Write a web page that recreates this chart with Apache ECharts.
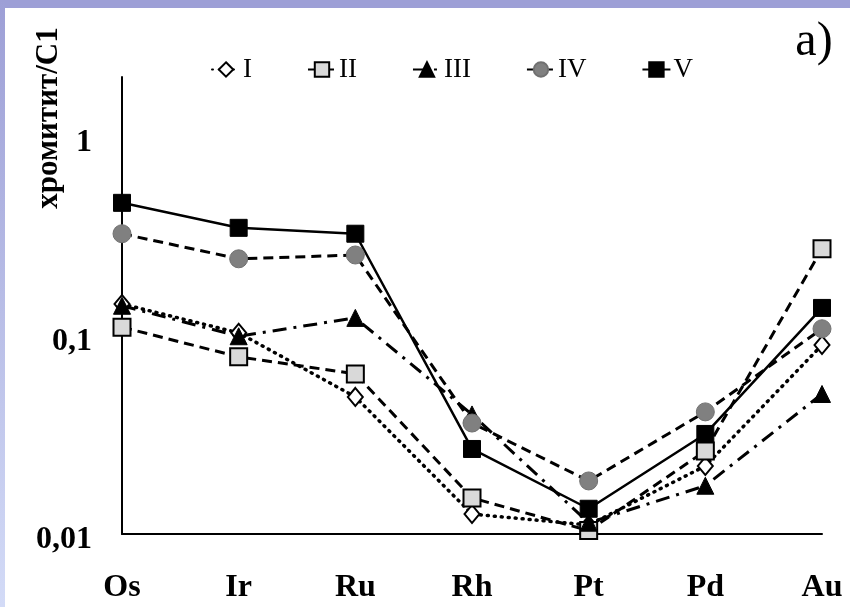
<!DOCTYPE html>
<html>
<head>
<meta charset="utf-8">
<script src="https://cdn.jsdelivr.net/npm/echarts@6/dist/echarts.min.js"></script>
<style>
html,body{margin:0;padding:0;background:#fff;}
#chart{width:850px;height:607px;}
</style>
</head>
<body>
<div id="chart"></div>
<script>
// Data (chromitite / C1, log scale)
const categories = ['Os', 'Ir', 'Ru', 'Rh', 'Pt', 'Pd', 'Au'];
const seriesNames = ['I', 'II', 'III', 'IV', 'V'];
const valuesI   = [0.144, 0.103, 0.049, 0.0126, 0.0111, 0.022, 0.0895];
const valuesII  = [0.110, 0.078, 0.064, 0.0152, 0.0104, 0.0262, 0.273];
const valuesIII = [0.141, 0.099, 0.1225, 0.040, 0.0114, 0.0175, 0.0507];
const valuesIV  = [0.325, 0.243, 0.254, 0.0362, 0.0185, 0.0412, 0.108];
const valuesV   = [0.465, 0.348, 0.325, 0.0268, 0.0134, 0.0319, 0.1375];
const yTickLabels = ['0,01', '0,1', '1'];
const yAxisTitle = 'хромитит/С1';
const panelLabel = 'a)';

const chart = echarts.init(document.getElementById('chart'));
const serif = '"Liberation Serif", "DejaVu Serif", serif';

function mkSeries(name, data, symbol, size, itemStyle, lineStyle) {
  return {
    name: name, type: 'line', data: data,
    symbol: symbol, symbolSize: size,
    itemStyle: itemStyle,
    lineStyle: Object.assign({color: '#000'}, lineStyle),
    emphasis: {disabled: true},
    animation: false
  };
}

const option = {
  backgroundColor: '#ffffff',
  animation: false,
  grid: {left: 122, right: 28, top: 77, bottom: 73},
  legend: {
    data: seriesNames,
    left: 206, top: 51,
    itemWidth: 28, itemHeight: 18, itemGap: 55,
    textStyle: {fontFamily: serif, fontSize: 27, color: '#000', padding: [0,0,0,-2]}
  },
  xAxis: {
    type: 'category', data: categories, boundaryGap: false,
    axisLine: {lineStyle: {color: '#000', width: 2}},
    axisTick: {show: false},
    axisLabel: {fontFamily: serif, fontWeight: 'bold', fontSize: 32, color: '#000', margin: 38}
  },
  yAxis: {
    type: 'log', logBase: 10, min: 0.01, max: 2, splitNumber: 3,
    axisLine: {show: true, lineStyle: {color: '#000', width: 2}},
    axisTick: {show: false},
    splitLine: {show: false},
    axisLabel: {
      fontFamily: serif, fontWeight: 'bold', fontSize: 32, color: '#000', margin: 30,
      verticalAlign: 'top', lineHeight: 12,
      showMaxLabel: false,
      formatter: function (v) {
        const lg = Math.log10(v);
        if (Math.abs(lg - Math.round(lg)) > 0.01) return '';
        const idx = Math.round(lg) + 2;
        return yTickLabels[idx] !== undefined ? yTickLabels[idx] : '';
      }
    }
  },
  graphic: [
    {type: 'rect', shape: {x: 0, y: 0, width: 850, height: 8}, style: {fill: '#9d9fd6'}, z: 100},
    {type: 'rect', shape: {x: 0, y: 0, width: 5, height: 607},
      style: {fill: new echarts.graphic.LinearGradient(0, 0, 0, 1, [
        {offset: 0, color: '#9d9fd6'}, {offset: 1, color: '#d3dbf7'}])}, z: 100},
    {type: 'text', x: 49, y: 118, rotation: Math.PI / 2,
      style: {text: yAxisTitle, font: 'bold 31px ' + serif, fill: '#000', align: 'center', verticalAlign: 'middle'}},
    {type: 'text', x: 814, y: 42,
      style: {text: panelLabel, font: '48px ' + serif, fill: '#000', align: 'center', verticalAlign: 'middle'}}
  ],
  series: [
    mkSeries('I', valuesI, 'diamond', [15, 18], {color: '#fff', borderColor: '#000', borderWidth: 2},
      {width: 3.5, type: [1, 6], cap: 'round'}),
    mkSeries('II', valuesII, 'rect', 17, {color: '#d9d9d9', borderColor: '#000', borderWidth: 2},
      {width: 3, type: [10, 6]}),
    mkSeries('III', valuesIII, 'triangle', 17, {color: '#000', borderColor: '#000', borderWidth: 1},
      {width: 3, type: [14, 7, 3, 7]}),
    mkSeries('IV', valuesIV, 'circle', 18, {color: '#808080', borderColor: '#707070', borderWidth: 1},
      {width: 3, type: [10, 6]}),
    mkSeries('V', valuesV, 'rect', 17, {color: '#000', borderColor: '#000', borderWidth: 1},
      {width: 2.5, type: 'solid'})
  ]
};
chart.setOption(option);
</script>
</body>
</html>
